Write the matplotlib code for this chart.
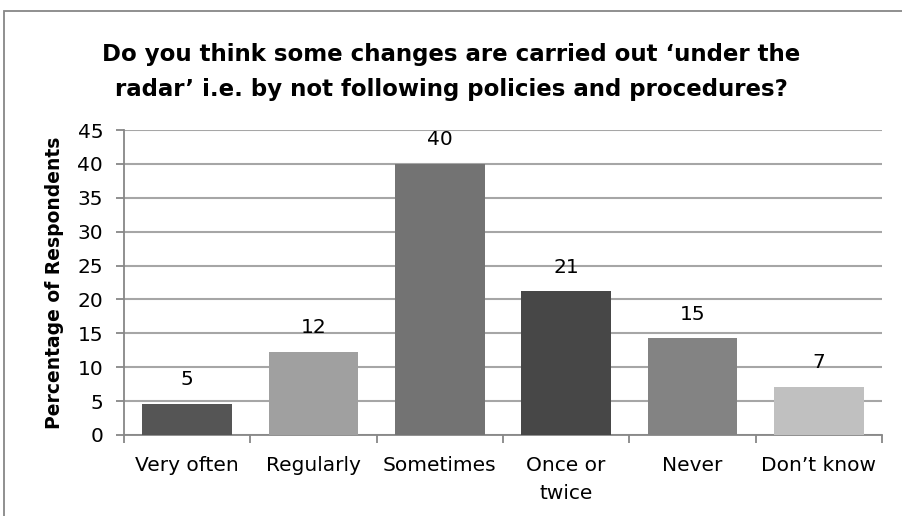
import numpy as np
import matplotlib.pyplot as plt
from matplotlib.patches import Rectangle

# Datos
categorias = ["Very often", "Regularly", "Sometimes", "Once or\ntwice", "Never", "Don\u2019t know"]
valores = [4.6, 12.3, 40.0, 21.2, 14.3, 7.1]
etiquetas = ["5", "12", "40", "21", "15", "7"]
colores = ["#555555", "#a0a0a0", "#737373", "#474747", "#838383", "#c0c0c0"]
y_ticks = list(range(0, 50, 5))

titulo = "Do you think some changes are carried out \u2018under the\nradar\u2019 i.e. by not following policies and procedures?"

plt.rcParams['font.family'] = ['DejaVu Sans']

fig = plt.figure(figsize=(9.02, 5.16), dpi=100)
ax = fig.add_axes([124 / 902, 1 - 435 / 516, 758 / 902, 305 / 516])

x = np.arange(len(categorias))
ax.bar(x, valores, width=0.71, color=colores, zorder=3)

# etiquetas de datos sobre cada barra
for xi, v, lab in zip(x, valores, etiquetas):
    ax.annotate(lab, (xi, v), xytext=(0, 24), textcoords="offset pixels",
                ha="center", va="center", fontsize=14.5, color="black", zorder=4)

ax.set_xlim(-0.5, len(categorias) - 0.5)
ax.set_ylim(0, 45)
ax.set_yticks(y_ticks)
ax.set_yticklabels([str(t) for t in y_ticks], fontsize=14.5)
ax.yaxis.grid(True, color="#a6a6a6", linewidth=1.5, zorder=0)

# ticks del eje x en los limites de categoria
ax.set_xticks(np.arange(-0.5, len(categorias), 1.0))
ax.set_xticklabels([])
ax.set_xticks(x, minor=True)
ax.set_xticklabels(categorias, minor=True, fontsize=14.5, linespacing=1.6)
ax.tick_params(axis="x", which="minor", length=0, pad=15)
ax.tick_params(axis="x", which="major", length=6, color="#878787", width=1.3, direction="out")
ax.tick_params(axis="y", length=6, color="#878787", width=1.3, pad=9)

for s in ["top", "right"]:
    ax.spines[s].set_visible(False)
for s in ["left", "bottom"]:
    ax.spines[s].set_color("#878787")
    ax.spines[s].set_linewidth(1.3)

ax.set_ylabel("Percentage of Respondents", fontsize=13.5, fontweight="bold", labelpad=10)

fig.text(0.5, 1 - 72 / 516, titulo, ha="center", va="center", fontsize=16.5,
         fontweight="bold", linespacing=1.7)

# marco exterior del grafico
fig.patches.append(Rectangle((4 / 902, -0.05), 1.0, 1 - 11 / 516 + 0.05, transform=fig.transFigure,
                             fill=False, edgecolor="#878787", linewidth=1.3))

fig.savefig("out.png", dpi=100, facecolor="white")
